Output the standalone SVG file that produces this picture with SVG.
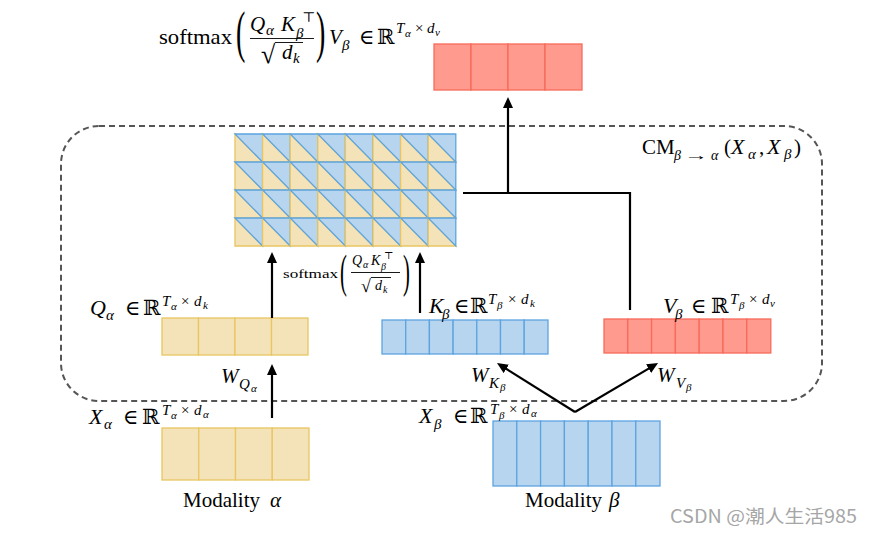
<svg xmlns="http://www.w3.org/2000/svg" xmlns:xlink="http://www.w3.org/1999/xlink" width="873" height="536" viewBox="0 0 873 536">
<style>
.rm{font-family:"Liberation Serif","DejaVu Serif",serif;fill:#000}
.it{font-family:"Liberation Serif","DejaVu Serif",serif;font-style:italic;fill:#000}
.s20{font-size:21px}.s22{font-size:22px}.s14{font-size:15px}.s15{font-size:15px}.s10{font-size:11px}.s13{font-size:14px}
.yel{fill:#F4E2B8;stroke:#E9C661;stroke-width:1.3}
.blu{fill:#B7D5EE;stroke:#5CA4E0;stroke-width:1.3}
.red{fill:#FF9A8E;stroke:#F86A5A;stroke-width:1.3}
.conn{stroke:#000;stroke-width:2.2;fill:none}
.bar{stroke:#000;stroke-width:0.9}
</style>
<defs>
<marker id="ah" markerUnits="userSpaceOnUse" markerWidth="12" markerHeight="10" refX="2" refY="5" orient="auto">
<path d="M0,0 L11,5 L0,10 z" fill="#000"/>
</marker>
<g id="cell">
<polygon class="yel" points="0,0 0,28 27.6,28"/>
<polygon class="blu" points="0,0 27.6,0 27.6,28"/>
</g>
</defs>
<rect width="873" height="536" fill="#fff"/>

<g id="cm-block">
<rect x="61" y="126" width="761" height="275" rx="38" ry="38" fill="none" stroke="#555" stroke-width="2" stroke-dasharray="6 4"/>
<text class="rm s20" x="642" y="154">CM</text>
<text class="it s13" x="674" y="160">β</text>
<text class="rm s13" x="684" y="160" textLength="24" lengthAdjust="spacingAndGlyphs">→</text>
<text class="it s13" x="711" y="160">α</text>
<text class="rm s20" x="724" y="154">(</text>
<text class="it s22" x="731" y="154">X</text>
<text class="it s14" x="748" y="159">α</text>
<text class="rm s20" x="759" y="154">,</text>
<text class="it s22" x="767" y="154">X</text>
<text class="it s14" x="784" y="159">β</text>
<text class="rm s20" x="794" y="154">)</text>
</g>

<g id="output">
<rect class="red" x="434" y="44" width="37" height="46"/>
<rect class="red" x="471" y="44" width="37" height="46"/>
<rect class="red" x="508" y="44" width="37" height="46"/>
<rect class="red" x="545" y="44" width="37" height="46"/>
<text class="rm s20" x="159" y="44" textLength="73" lengthAdjust="spacingAndGlyphs">softmax</text>
<text class="rm" font-size="56" transform="translate(236,51) scale(0.5,1)">(</text>
<text class="it s20" x="250" y="31">Q</text>
<text class="it s14" x="266" y="35">α</text>
<text class="it s20" x="281" y="31">K</text>
<text class="it s14" x="296" y="38">β</text>
<text class="rm s13" x="302" y="22">⊤</text>
<line class="bar" x1="250" y1="38.5" x2="314" y2="38.5"/>
<text class="rm" font-size="26" x="261" y="63">√</text>
<line class="bar" x1="275" y1="42.5" x2="303" y2="42.5"/>
<text class="it s20" x="282" y="59">d</text>
<text class="it s14" x="293" y="63">k</text>
<text class="rm" font-size="56" transform="translate(316,51) scale(0.5,1)">)</text>
<text class="it s20" x="329" y="44">V</text>
<text class="it s14" x="342" y="50">β</text>
<text class="rm s20" x="359" y="44">∈</text>
<text class="rm s20" x="377" y="44">ℝ</text>
<text class="it s15" x="396" y="33">T</text>
<text class="it s10" x="405" y="37">α</text>
<text class="rm s15" x="415" y="33">×</text>
<text class="it s15" x="427" y="33">d</text>
<text class="it s10" x="435" y="36">v</text>
</g>

<g id="attention-map">
<use xlink:href="#cell" x="235" y="134"/><use xlink:href="#cell" x="262.6" y="134"/><use xlink:href="#cell" x="290.2" y="134"/><use xlink:href="#cell" x="317.8" y="134"/><use xlink:href="#cell" x="345.4" y="134"/><use xlink:href="#cell" x="373" y="134"/><use xlink:href="#cell" x="400.6" y="134"/><use xlink:href="#cell" x="428.2" y="134"/>
<use xlink:href="#cell" x="235" y="162"/><use xlink:href="#cell" x="262.6" y="162"/><use xlink:href="#cell" x="290.2" y="162"/><use xlink:href="#cell" x="317.8" y="162"/><use xlink:href="#cell" x="345.4" y="162"/><use xlink:href="#cell" x="373" y="162"/><use xlink:href="#cell" x="400.6" y="162"/><use xlink:href="#cell" x="428.2" y="162"/>
<use xlink:href="#cell" x="235" y="190"/><use xlink:href="#cell" x="262.6" y="190"/><use xlink:href="#cell" x="290.2" y="190"/><use xlink:href="#cell" x="317.8" y="190"/><use xlink:href="#cell" x="345.4" y="190"/><use xlink:href="#cell" x="373" y="190"/><use xlink:href="#cell" x="400.6" y="190"/><use xlink:href="#cell" x="428.2" y="190"/>
<use xlink:href="#cell" x="235" y="218"/><use xlink:href="#cell" x="262.6" y="218"/><use xlink:href="#cell" x="290.2" y="218"/><use xlink:href="#cell" x="317.8" y="218"/><use xlink:href="#cell" x="345.4" y="218"/><use xlink:href="#cell" x="373" y="218"/><use xlink:href="#cell" x="400.6" y="218"/><use xlink:href="#cell" x="428.2" y="218"/>
</g>

<g id="softmax-label">
<text class="rm" font-size="13" x="283" y="278" textLength="55" lengthAdjust="spacingAndGlyphs">softmax</text>
<text class="rm" font-size="46" transform="translate(340,287) scale(0.45,1)">(</text>
<text class="it" font-size="14" x="352" y="265">Q</text>
<text class="it" font-size="10" x="363" y="268">α</text>
<text class="it" font-size="14" x="371" y="265">K</text>
<text class="it" font-size="10" x="381" y="270">β</text>
<text class="rm" font-size="10" x="384" y="259">⊤</text>
<line class="bar" x1="351" y1="272.5" x2="400" y2="272.5"/>
<text class="rm" font-size="18" x="361" y="292">√</text>
<line class="bar" x1="371" y1="277.5" x2="391" y2="277.5"/>
<text class="it" font-size="14" x="375" y="290">d</text>
<text class="it" font-size="10" x="383" y="293">k</text>
<text class="rm" font-size="46" transform="translate(403,287) scale(0.45,1)">)</text>
</g>

<g id="Q">
<rect class="yel" x="162" y="318" width="36.5" height="37"/>
<rect class="yel" x="198.5" y="318" width="36.5" height="37"/>
<rect class="yel" x="235" y="318" width="36.5" height="37"/>
<rect class="yel" x="271.5" y="318" width="36.5" height="37"/>
<text class="it s22" x="90" y="315">Q</text>
<text class="it s14" x="106" y="320">α</text>
<text class="rm s20" x="125" y="315">∈</text>
<text class="rm s20" x="143" y="315">ℝ</text>
<text class="it s15" x="162" y="306">T</text>
<text class="it s10" x="171" y="310">α</text>
<text class="rm s15" x="181" y="306">×</text>
<text class="it s15" x="194" y="306">d</text>
<text class="it s10" x="203" y="309">k</text>
</g>

<g id="K">
<rect class="blu" x="382" y="320" width="23.7" height="34"/>
<rect class="blu" x="405.7" y="320" width="23.7" height="34"/>
<rect class="blu" x="429.4" y="320" width="23.7" height="34"/>
<rect class="blu" x="453.1" y="320" width="23.7" height="34"/>
<rect class="blu" x="476.8" y="320" width="23.7" height="34"/>
<rect class="blu" x="500.5" y="320" width="23.7" height="34"/>
<rect class="blu" x="524.2" y="320" width="23.8" height="34"/>
<text class="it s22" x="429" y="313">K</text>
<text class="it s14" x="442" y="319">β</text>
<text class="rm s20" x="454" y="313">∈</text>
<text class="rm s20" x="470" y="313">ℝ</text>
<text class="it s15" x="488" y="304">T</text>
<text class="it s10" x="497" y="309">β</text>
<text class="rm s15" x="508" y="304">×</text>
<text class="it s15" x="521" y="304">d</text>
<text class="it s10" x="530" y="307">k</text>
</g>

<g id="V">
<rect class="red" x="604" y="319" width="23.8" height="34"/>
<rect class="red" x="627.8" y="319" width="23.8" height="34"/>
<rect class="red" x="651.6" y="319" width="23.8" height="34"/>
<rect class="red" x="675.4" y="319" width="23.8" height="34"/>
<rect class="red" x="699.2" y="319" width="23.8" height="34"/>
<rect class="red" x="723" y="319" width="23.8" height="34"/>
<rect class="red" x="746.8" y="319" width="24" height="34"/>
<text class="it s22" x="663" y="313">V</text>
<text class="it s14" x="675" y="319">β</text>
<text class="rm s20" x="691" y="313">∈</text>
<text class="rm s20" x="711" y="313">ℝ</text>
<text class="it s15" x="730" y="304">T</text>
<text class="it s10" x="739" y="309">β</text>
<text class="rm s15" x="749" y="304">×</text>
<text class="it s15" x="762" y="304">d</text>
<text class="it s10" x="770" y="307">v</text>
</g>

<g id="X-alpha">
<rect class="yel" x="162" y="428" width="36.75" height="52"/>
<rect class="yel" x="198.75" y="428" width="36.75" height="52"/>
<rect class="yel" x="235.5" y="428" width="36.75" height="52"/>
<rect class="yel" x="272.25" y="428" width="36.75" height="52"/>
<text class="it s22" x="89" y="424">X</text>
<text class="it s14" x="104" y="429">α</text>
<text class="rm s20" x="123" y="424">∈</text>
<text class="rm s20" x="142" y="424">ℝ</text>
<text class="it s15" x="162" y="415">T</text>
<text class="it s10" x="171" y="419">α</text>
<text class="rm s15" x="181" y="415">×</text>
<text class="it s15" x="194" y="415">d</text>
<text class="it s10" x="203" y="418">α</text>
<text class="rm s20" x="183" y="507" textLength="77" lengthAdjust="spacingAndGlyphs">Modality</text>
<text class="it s20" x="270" y="507">α</text>
</g>

<g id="X-beta">
<rect class="blu" x="493" y="421" width="23.8" height="65"/>
<rect class="blu" x="516.8" y="421" width="23.8" height="65"/>
<rect class="blu" x="540.6" y="421" width="23.8" height="65"/>
<rect class="blu" x="564.4" y="421" width="23.8" height="65"/>
<rect class="blu" x="588.2" y="421" width="23.8" height="65"/>
<rect class="blu" x="612" y="421" width="23.8" height="65"/>
<rect class="blu" x="635.8" y="421" width="24.2" height="65"/>
<text class="it s22" x="419" y="423">X</text>
<text class="it s14" x="434" y="429">β</text>
<text class="rm s20" x="453" y="423">∈</text>
<text class="rm s20" x="470" y="423">ℝ</text>
<text class="it s15" x="490" y="414">T</text>
<text class="it s10" x="499" y="419">β</text>
<text class="rm s15" x="509" y="414">×</text>
<text class="it s15" x="522" y="414">d</text>
<text class="it s10" x="531" y="417">α</text>
<text class="rm s20" x="525" y="507" textLength="77" lengthAdjust="spacingAndGlyphs">Modality</text>
<text class="it s20" x="609" y="507">β</text>
</g>

<g id="connectors">
<line class="conn" x1="272" y1="418" x2="272" y2="373" marker-end="url(#ah)"/>
<line class="conn" x1="272" y1="318" x2="272" y2="261" marker-end="url(#ah)"/>
<line class="conn" x1="420" y1="313" x2="420" y2="261" marker-end="url(#ah)"/>
<line class="conn" x1="575" y1="412" x2="504.6" y2="367.8" marker-end="url(#ah)"/>
<line class="conn" x1="575" y1="412" x2="650.3" y2="367.6" marker-end="url(#ah)"/>
<polyline class="conn" points="630,310 630,193 463,193"/>
<line class="conn" x1="508" y1="193" x2="508" y2="106" marker-end="url(#ah)"/>
<text class="it s20" x="221" y="383">W</text>
<text class="it s14" x="239" y="389">Q</text>
<text class="it s10" x="251" y="392">α</text>
<text class="it s20" x="471" y="382">W</text>
<text class="it s14" x="489" y="388">K</text>
<text class="it s10" x="500" y="391">β</text>
<text class="it s20" x="657" y="382">W</text>
<text class="it s14" x="676" y="388">V</text>
<text class="it s10" x="686" y="391">β</text>
</g>

<text x="670" y="523" font-family="'Noto Sans CJK SC','Noto Sans',sans-serif" font-size="18" fill="#a6a6a6" textLength="187" lengthAdjust="spacingAndGlyphs">CSDN @潮人生活985</text>
</svg>
